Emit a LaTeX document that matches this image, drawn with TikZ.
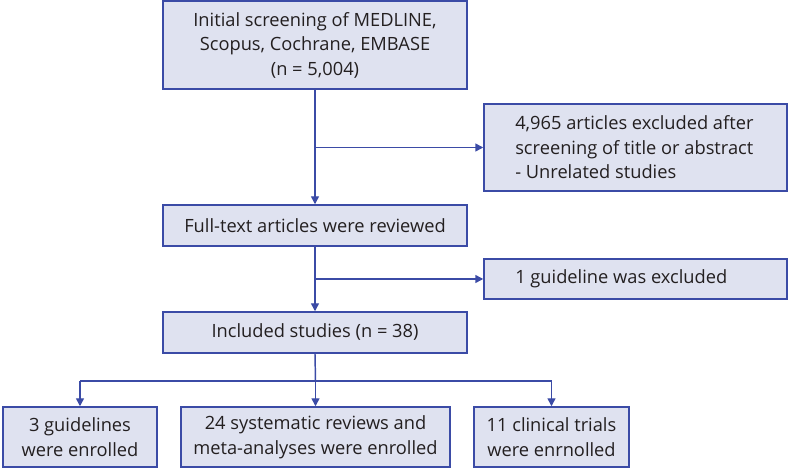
\documentclass[tikz,border=0pt]{standalone}
\usepackage{fontspec}
\setmainfont{Open Sans}
\usetikzlibrary{arrows.meta}
\definecolor{boxfill}{HTML}{DFE2F0}
\definecolor{boxline}{HTML}{3B4BA6}
\definecolor{txt}{HTML}{231F20}
\begin{document}
\begin{tikzpicture}[x=0.75pt,y=-0.75pt,
  box/.style={draw=boxline,fill=boxfill,line width=1.1pt,inner sep=0pt,align=center,
    text=txt,font=\fontsize{13.7}{18.4}\selectfont},
  lbl/.style={anchor=west,inner sep=0pt,align=left,text=txt,font=\fontsize{13.7}{18.4}\selectfont},
  conn/.style={draw=boxline,line width=1.1pt},
  arr/.style={conn,-{Triangle[length=6pt,width=6pt]}}]
\useasboundingbox (0,0) rectangle (790,470);
\node[box,minimum width=228pt,minimum height=66pt] (top) at (315,45)
  {Initial screening of MEDLINE,\\Scopus, Cochrane, EMBASE\\(n = 5,004)};
\node[box,minimum width=227.25pt,minimum height=65.25pt] (ex1) at (635.5,147.5) {};
\node[lbl] (ex1t) at (515,147.5)
  {4,965 articles excluded after\\screening of title or abstract\\- Unrelated studies};
\node[box,minimum width=228pt,minimum height=30.75pt] (full) at (315,225.5)
  {Full-text articles were reviewed};
\node[box,minimum width=227.25pt,minimum height=30pt] (ex2) at (635.5,279) {};
\node[lbl] (ex2t) at (515,279) {1 guideline was excluded};
\node[box,minimum width=228pt,minimum height=30.75pt] (incl) at (315,332.5)
  {Included studies (n = 38)};
\node[box,minimum width=115.5pt,minimum height=45pt] (b1) at (80,437)
  {3 guidelines\\were enrolled};
\node[box,minimum width=201.75pt,minimum height=45pt] (b2) at (315.5,437)
  {24 systematic reviews and\\meta-analyses were enrolled};
\node[box,minimum width=116.25pt,minimum height=45pt] (b3) at (551.5,437)
  {11 clinical trials\\were enrnolled};
\coordinate (split) at (315.5,381);
\draw[arr] (top.south) -- (full.north);
\draw[arr] (top.south |- ex1.west) -- (ex1.west);
\draw[arr] (full.south) -- (incl.north);
\draw[arr] (full.south |- ex2.west) -- (ex2.west);
\draw[conn] (incl.south) -- (split);
\draw[conn] (b1.north |- split) -- (b3.north |- split);
\draw[arr] (b1.north |- split) -- (b1.north);
\draw[arr] (split) -- (b2.north);
\draw[arr] (b3.north |- split) -- (b3.north);
\end{tikzpicture}
\end{document}
